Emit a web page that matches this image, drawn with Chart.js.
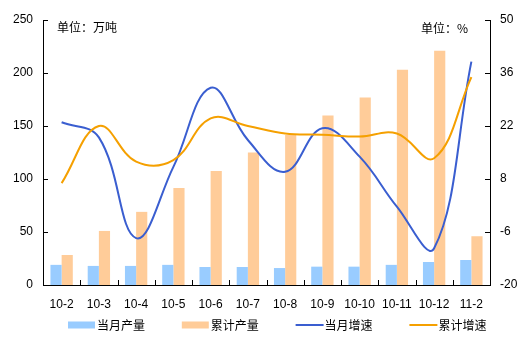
<!DOCTYPE html>
<html>
<head>
<meta charset="utf-8">
<script src="https://cdn.jsdelivr.net/npm/chart.js@4.4.0/dist/chart.umd.min.js"></script>
<style>
  html, body { margin: 0; padding: 0; background: #fff; }
  #wrap { width: 532px; height: 348px; }
</style>
</head>
<body>
<div id="wrap"><canvas id="outputChart"></canvas></div>
<script>
// Monthly data, Feb 2010 - Feb 2011
const months = ['10-2', '10-3', '10-4', '10-5', '10-6', '10-7', '10-8', '10-9', '10-10', '10-11', '10-12', '11-2'];
const monthOutput = [19, 18, 18, 19, 17, 17, 16, 17.3, 17.3, 19, 21.7, 23.6];        // 万吨
const cumOutput = [28.3, 51, 69, 91.5, 107.5, 125, 141.5, 160, 177, 203, 221, 46];    // 万吨
const monthGrowth = [23, 19, -7.6, 11.2, 32.1, 18.3, 9.9, 21.4, 13.9, 0.7, -10.3, 39]; // %
const cumGrowth = [6.9, 22, 12.6, 13, 24, 22, 20, 19.7, 19.2, 20, 13.5, 34.9];        // %
const leftTicks = [0, 50, 100, 150, 200, 250];
const rightTicks = [-20, -6, 8, 22, 36, 50];

const FONT = '"Liberation Sans", Arial, "Noto Sans CJK SC", sans-serif';
const CJK = '"Noto Sans CJK SC", "Liberation Sans", sans-serif';

// Short tick marks drawn on the inside of the axes, plus the unit captions
const axisDecor = {
    id: 'axisDecor',
    beforeDatasetsDraw(chart) {
        const { ctx, chartArea: a, scales } = chart;
        ctx.save();
        ctx.strokeStyle = '#000';
        ctx.lineWidth = 1;
        ctx.beginPath();
        scales.y.ticks.forEach(t => {
            const py = Math.round(scales.y.getPixelForValue(t.value)) + 0.5;
            ctx.moveTo(a.left, py);
            ctx.lineTo(a.left + 5, py);
        });
        scales.y1.ticks.forEach(t => {
            const py = Math.round(scales.y1.getPixelForValue(t.value)) + 0.5;
            ctx.moveTo(a.right, py);
            ctx.lineTo(a.right - 5, py);
        });
        const n = scales.x.ticks.length;
        for (let i = 0; i <= n; i++) {
            const px = Math.round(a.left + (a.right - a.left) * i / n) + 0.5;
            ctx.moveTo(px, a.bottom);
            ctx.lineTo(px, a.bottom - 5);
        }
        ctx.stroke();

        ctx.fillStyle = '#000';
        ctx.font = '12px ' + CJK;
        ctx.textBaseline = 'middle';
        ctx.textAlign = 'left';
        ctx.fillText('单位：万吨', a.left + 14, a.top + 7);
        ctx.textAlign = 'right';
        ctx.fillText('单位：%', a.right - 22, a.top + 8);
        ctx.restore();
    }
};

// Legend row under the axis: swatch for bars, short stroke for lines
const bottomLegend = {
    id: 'bottomLegend',
    afterDraw(chart) {
        const { ctx, chartArea: a } = chart;
        const y = a.bottom + 40;
        const step = 113.8;
        ctx.save();
        ctx.font = '12px ' + CJK;
        ctx.textBaseline = 'middle';
        ctx.textAlign = 'left';
        chart.data.datasets.forEach((ds, i) => {
            const x = a.left + 25 + i * step;
            if (ds.type === 'line') {
                ctx.strokeStyle = ds.borderColor;
                ctx.lineWidth = 2;
                ctx.beginPath();
                ctx.moveTo(x, y);
                ctx.lineTo(x + 28, y);
                ctx.stroke();
            } else {
                ctx.fillStyle = ds.backgroundColor;
                ctx.fillRect(x, y - 3.5, 27, 7);
            }
            ctx.fillStyle = '#000';
            ctx.fillText(ds.label, x + 29, y);
        });
        ctx.restore();
    }
};

const ctx = document.getElementById('outputChart').getContext('2d');
new Chart(ctx, {
    data: {
        labels: months,
        datasets: [
            {
                type: 'bar',
                label: '当月产量',
                data: monthOutput,
                backgroundColor: '#99CCFF',
                borderWidth: 0,
                yAxisID: 'y',
                order: 2,
                categoryPercentage: 0.6,
                barPercentage: 1
            },
            {
                type: 'bar',
                label: '累计产量',
                data: cumOutput,
                backgroundColor: '#FFCC99',
                borderWidth: 0,
                yAxisID: 'y',
                order: 2,
                categoryPercentage: 0.6,
                barPercentage: 1
            },
            {
                type: 'line',
                label: '当月增速',
                data: monthGrowth,
                borderColor: '#3A5ED0',
                backgroundColor: '#3A5ED0',
                borderWidth: 2,
                pointRadius: 0,
                tension: 0.4,
                yAxisID: 'y1',
                order: 1
            },
            {
                type: 'line',
                label: '累计增速',
                data: cumGrowth,
                borderColor: '#F5A000',
                backgroundColor: '#F5A000',
                borderWidth: 2,
                pointRadius: 0,
                tension: 0.4,
                yAxisID: 'y1',
                order: 0
            }
        ]
    },
    options: {
        responsive: true,
        maintainAspectRatio: false,
        animation: false,
        layout: { padding: { top: 20, left: 0, right: 0, bottom: 37 } },
        plugins: {
            tooltip: { enabled: false },
            legend: { display: false }
        },
        scales: {
            x: {
                grid: { display: false, drawTicks: false },
                border: { display: true, color: '#000', width: 1 },
                afterFit(scale) { scale.height = 26; },
                ticks: { color: '#000', font: { size: 12, family: FONT }, padding: 12, maxRotation: 0, autoSkip: false }
            },
            y: {
                position: 'left',
                min: 0,
                max: 250,
                grid: { display: false, drawTicks: false },
                border: { display: true, color: '#000', width: 1 },
                afterBuildTicks(scale) { scale.ticks = leftTicks.map(v => ({ value: v })); },
                afterFit(scale) { scale.width = 43; },
                ticks: { color: '#000', font: { size: 12, family: FONT }, padding: 10 }
            },
            y1: {
                position: 'right',
                min: -20,
                max: 50,
                grid: { display: false, drawTicks: false },
                border: { display: true, color: '#000', width: 1 },
                afterBuildTicks(scale) { scale.ticks = rightTicks.map(v => ({ value: v })); },
                afterFit(scale) { scale.width = 42; },
                ticks: { color: '#000', font: { size: 12, family: FONT }, padding: 10 }
            }
        }
    },
    plugins: [axisDecor, bottomLegend]
});
</script>
</body>
</html>
